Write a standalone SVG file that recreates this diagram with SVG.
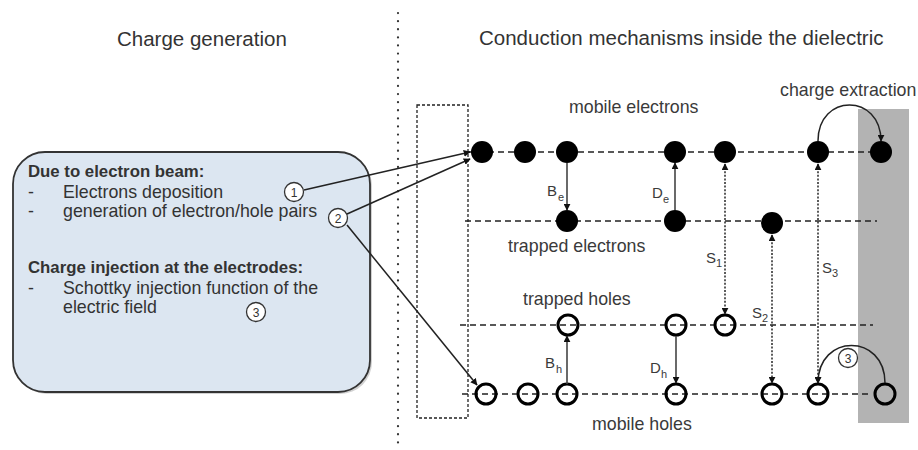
<svg xmlns="http://www.w3.org/2000/svg" width="918" height="450" viewBox="0 0 918 450">
<defs>
<style>
text{font-family:"Liberation Sans",Arial,sans-serif;fill:#333}
.title{font-size:20.5px}
.bt{font-size:16.8px;font-weight:bold}
.rt{font-size:17.8px}
.lab{font-size:17.8px;fill:#3a3a3a}
.sym{font-size:15px;fill:#3a3a3a}
.sub{font-size:11px;fill:#3a3a3a}
.num{font-size:12px;text-anchor:middle}
.level{stroke:#222;stroke-width:1.6;stroke-dasharray:6 4;fill:none}
.e{fill:#000}
.h{fill:none;stroke:#000;stroke-width:3}
.numc{fill:#fff;stroke:#333;stroke-width:1.3}
.solid{stroke:#444;stroke-width:1.6;fill:none}
.dot{stroke:#333;stroke-width:1.6;stroke-dasharray:2 1.6;fill:none}
.link{stroke:#222;stroke-width:1.5;fill:none}
</style>
<marker id="ah" viewBox="0 0 10 10" refX="9" refY="5" markerWidth="7" markerHeight="7" markerUnits="userSpaceOnUse" orient="auto-start-reverse">
<path d="M0 0 L10 5 L0 10 z" fill="#111"/>
</marker>
</defs>
<rect width="918" height="450" fill="#fff"/>

<g id="titles">
<text class="title" x="117" y="46">Charge generation</text>
<text class="title" x="479" y="45">Conduction mechanisms inside the dielectric</text>
</g>

<line id="divider" x1="398" y1="13" x2="398" y2="450" stroke="#333" stroke-width="2.2" stroke-dasharray="0.1 8" stroke-linecap="round"/>

<g id="charge-generation-box">
<rect x="15" y="154" width="357" height="240" rx="32" fill="#999" opacity="0.45"/>
<rect x="13" y="152" width="357" height="240" rx="32" fill="#dce6f1" stroke="#333" stroke-width="1.8"/>
<text class="bt" x="28" y="177">Due to electron beam:</text>
<text class="rt" x="28" y="198">-</text>
<text class="rt" x="63" y="198">Electrons deposition</text>
<text class="rt" x="28" y="217">-</text>
<text class="rt" x="63" y="217">generation of electron/hole pairs</text>
<text class="bt" x="28" y="273">Charge injection at the electrodes:</text>
<text class="rt" x="28" y="294">-</text>
<text class="rt" x="63" y="294">Schottky injection function of the</text>
<text class="rt" x="63" y="313">electric field</text>
</g>

<g id="num1"><circle class="numc" cx="294" cy="192" r="9.5"/><text class="num" x="294" y="196.5">1</text></g>
<g id="num2"><circle class="numc" cx="338" cy="218" r="9.5"/><text class="num" x="338" y="222.5">2</text></g>
<g id="num3"><circle class="numc" cx="256" cy="312" r="9.5"/><text class="num" x="256" y="316.5">3</text></g>

<g id="left-electrode"><rect x="417" y="105" width="51" height="313" fill="none" stroke="#222" stroke-width="1.3" stroke-dasharray="3 2"/></g>
<g id="right-electrode"><rect x="858" y="109" width="51" height="314" fill="#b3b3b3"/></g>

<g id="levels">
<line class="level" x1="468" y1="152" x2="881" y2="152"/>
<line class="level" x1="465" y1="221" x2="877" y2="221"/>
<line class="level" x1="460" y1="325" x2="873" y2="325"/>
<line class="level" x1="462" y1="394" x2="872" y2="394"/>
</g>

<g id="labels">
<text class="lab" x="569" y="113">mobile electrons</text>
<text class="lab" x="508" y="252">trapped electrons</text>
<text class="lab" x="523" y="305">trapped holes</text>
<text class="lab" x="592" y="430">mobile holes</text>
<text class="lab" x="780" y="96">charge extraction</text>
<text class="sym" x="547" y="196">B</text><text class="sub" x="558" y="201">e</text>
<text class="sym" x="652" y="198">D</text><text class="sub" x="663" y="203">e</text>
<text class="sym" x="706" y="263">S</text><text class="sub" x="716" y="267">1</text>
<text class="sym" x="752" y="318">S</text><text class="sub" x="762" y="322">2</text>
<text class="sym" x="822" y="273">S</text><text class="sub" x="832" y="277">3</text>
<text class="sym" x="545" y="368">B</text><text class="sub" x="556" y="373">h</text>
<text class="sym" x="650" y="373">D</text><text class="sub" x="661" y="378">h</text>
</g>

<g id="mobile-electrons">
<circle class="e" cx="482" cy="152" r="11"/>
<circle class="e" cx="525" cy="152" r="11"/>
<circle class="e" cx="567" cy="152" r="11"/>
<circle class="e" cx="675" cy="152" r="11"/>
<circle class="e" cx="725" cy="152" r="11"/>
<circle class="e" cx="818" cy="152" r="11"/>
<circle class="e" cx="881" cy="152" r="11"/>
</g>
<g id="trapped-electrons">
<circle class="e" cx="567" cy="221" r="11"/>
<circle class="e" cx="675" cy="221" r="11"/>
<circle class="e" cx="772" cy="223" r="11"/>
</g>
<g id="trapped-holes">
<circle class="h" cx="568" cy="325" r="10"/>
<circle class="h" cx="676" cy="325" r="10"/>
<circle class="h" cx="725" cy="325" r="10"/>
</g>
<g id="mobile-holes">
<circle class="h" cx="486" cy="394" r="10"/>
<circle class="h" cx="528" cy="394" r="10"/>
<circle class="h" cx="567" cy="394" r="10"/>
<circle class="h" cx="676" cy="394" r="10"/>
<circle class="h" cx="772" cy="394" r="10"/>
<circle class="h" cx="818" cy="394" r="10"/>
<circle class="h" cx="885" cy="394" r="10"/>
</g>

<g id="num3b"><circle class="numc" cx="848" cy="358" r="9.5"/><text class="num" x="848" y="362.5">3</text></g>

<g id="connectors">
<line class="link" x1="304" y1="190" x2="470" y2="152" marker-end="url(#ah)"/>
<line class="link" x1="347" y1="214" x2="470" y2="159" marker-end="url(#ah)"/>
<line class="link" x1="347" y1="225" x2="477" y2="385" marker-end="url(#ah)"/>
<line class="solid" x1="567" y1="163" x2="567" y2="210" marker-end="url(#ah)"/>
<line class="solid" x1="675" y1="210" x2="675" y2="163" marker-end="url(#ah)"/>
<line class="solid" x1="567" y1="384" x2="567" y2="336" marker-end="url(#ah)"/>
<line class="solid" x1="676" y1="336" x2="676" y2="383" marker-end="url(#ah)"/>
<line class="dot" x1="725" y1="164" x2="725" y2="314" marker-start="url(#ah)" marker-end="url(#ah)"/>
<line class="dot" x1="772" y1="235" x2="772" y2="383" marker-start="url(#ah)" marker-end="url(#ah)"/>
<line class="dot" x1="818" y1="164" x2="818" y2="383" marker-start="url(#ah)" marker-end="url(#ah)"/>
<path class="link" d="M818 141 C818 93 881 93 881 141" stroke-width="1.8" marker-end="url(#ah)"/>
<path class="link" d="M885 383 C885 333 818 333 818 383" stroke-width="1.8" marker-end="url(#ah)"/>
</g>
</svg>
